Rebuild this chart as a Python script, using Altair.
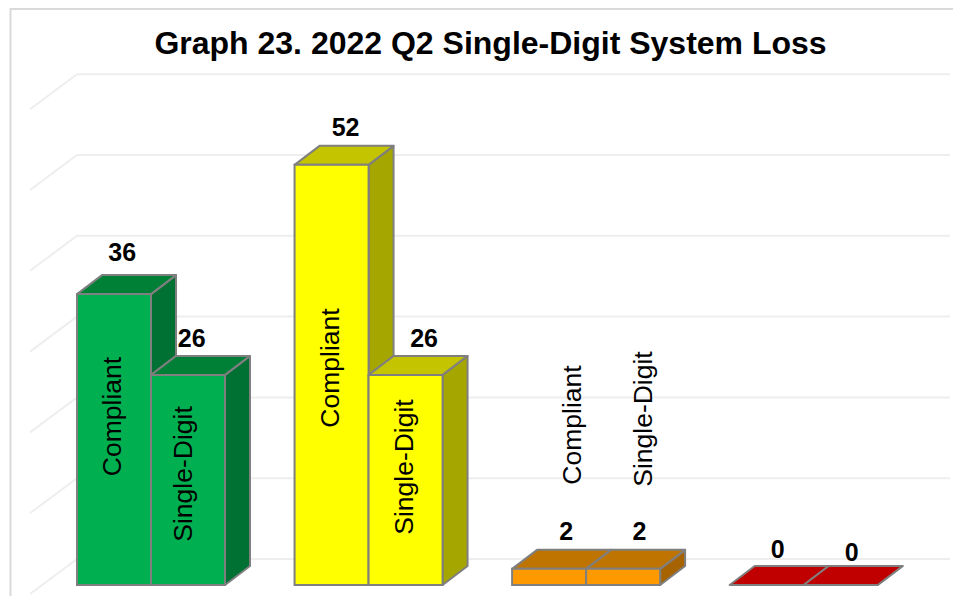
import altair as alt
import pandas as pd

# ---- chart values ----
groups = ["Green", "Yellow", "Orange", "Red"]
compliant = [36, 52, 2, 0]
single_digit = [26, 26, 2, 0]
series_names = ["Compliant", "Single-Digit"]
front_colors = ["#00B050", "#FFFF00", "#FF9900", "#C00000"]
top_colors = ["#008037", "#C4C400", "#C07400", "#C00000"]
side_colors = ["#007033", "#A6A600", "#A66300", "#C00000"]
grid_values = [0, 10, 20, 30, 40, 50, 60]
title_text = "Graph 23. 2022 Q2 Single-Digit System Loss"

# ---- layout constants (slot = one bar width, unit = one value unit) ----
W, H = 945, 588
PX_PER_SLOT, PX_PER_UNIT = 74.0, 8.08
X0_PX, Y0_PX = 77 - 8, 585 - 8
GROUP_PITCH = 2.94
DEPTH_X, DEPTH_Y = 25 / PX_PER_SLOT, 19 / PX_PER_UNIT
WALL_LIFT = 26 / PX_PER_UNIT
GRID_FRONT_X, GRID_FRONT_DROP = -47 / PX_PER_SLOT, 35 / PX_PER_UNIT
GRID_RIGHT = (950 - 77) / PX_PER_SLOT
STROKE = "#7F7F7F"
FONT = "Liberation Sans"

x_scale = alt.Scale(domain=[-X0_PX / PX_PER_SLOT, (W - X0_PX) / PX_PER_SLOT], nice=False, zero=False)
y_scale = alt.Scale(domain=[(Y0_PX - H) / PX_PER_UNIT, Y0_PX / PX_PER_UNIT], nice=False, zero=False)
X = lambda f: alt.X(f, type="quantitative", scale=x_scale, axis=None)
Y = lambda f: alt.Y(f, type="quantitative", scale=y_scale, axis=None)

# label placement relative to bar (slots right of bar left edge, units above value)
val_shift = {0: [(0.61, 5.1), (0.55, 4.5)], 1: [(0.69, 4.6), (0.75, 4.5)], 2: [(0.73, 4.5), (0.72, 4.6)], 3: [(0.65, 4.3), (0.65, 4.0)]}
name_center = {0: [(0.49, 20.85), (0.447, 13.74)], 1: [(0.49, 26.86), (0.49, 14.6)], 2: [(0.827, 19.8), (0.777, 20.54)]}


def faces(series_idx, values):
    side, top, front, vals, names = [], [], [], [], []
    for g, v in enumerate(values):
        x0 = g * GROUP_PITCH + series_idx
        x1 = x0 + 1
        bid = f"{g}-{series_idx}"
        side += [
            dict(b=bid, x=x1, y=0, y2=v, c=side_colors[g]),
            dict(b=bid, x=x1 + DEPTH_X, y=DEPTH_Y, y2=v + DEPTH_Y, c=side_colors[g]),
        ]
        top += [
            dict(b=bid, x=x0, y=v, y2=v, c=top_colors[g]),
            dict(b=bid, x=x0 + DEPTH_X, y=v, y2=v + DEPTH_Y, c=top_colors[g]),
            dict(b=bid, x=x1, y=v, y2=v + DEPTH_Y, c=top_colors[g]),
            dict(b=bid, x=x1 + DEPTH_X, y=v + DEPTH_Y, y2=v + DEPTH_Y, c=top_colors[g]),
        ]
        front.append(dict(x=x0, x2=x1, y=0, y2=v, c=front_colors[g]))
        sx, sy = val_shift[g][series_idx]
        vals.append(dict(x=x0 + sx, y=v + sy, t=str(v)))
        if g in name_center:
            nx, ny = name_center[g][series_idx]
            names.append(dict(x=x0 + nx, y=ny, t=series_names[series_idx]))
    return side, top, front, vals, names


def bar_layers(series_idx, values):
    side, top, front, vals, names = faces(series_idx, values)
    area = dict(orient="vertical", stroke=STROKE, strokeWidth=2, strokeJoin="round")
    return [
        alt.Chart(pd.DataFrame(side)).mark_area(**area).encode(
            x=X("x"), y=Y("y"), y2="y2", detail="b:N", color=alt.Color("c:N", scale=None)),
        alt.Chart(pd.DataFrame(top)).mark_area(**area).encode(
            x=X("x"), y=Y("y"), y2="y2", detail="b:N", color=alt.Color("c:N", scale=None)),
        alt.Chart(pd.DataFrame(front)).mark_rect(stroke=STROKE, strokeWidth=2).encode(
            x=X("x"), x2="x2", y=Y("y"), y2="y2", color=alt.Color("c:N", scale=None)),
    ], vals, names


rows = []
for g in grid_values:
    rows += [
        dict(g=g, x=GRID_FRONT_X, y=g + WALL_LIFT - GRID_FRONT_DROP),
        dict(g=g, x=0, y=g + WALL_LIFT),
        dict(g=g, x=GRID_RIGHT, y=g + WALL_LIFT),
    ]
grid = alt.Chart(pd.DataFrame(rows)).mark_line(color="#EEEEEE", strokeWidth=2).encode(
    x=X("x"), y=Y("y"), detail="g:N")

border_left = alt.Chart(pd.DataFrame({"a": [0]})).mark_rule(color="#D9D9D9", strokeWidth=2).encode(
    x=alt.value(2.5), y=alt.value(0), y2=alt.value(H))
border_top = alt.Chart(pd.DataFrame({"a": [0]})).mark_rule(color="#D9D9D9", strokeWidth=2).encode(
    y=alt.value(1), x=alt.value(2.5), x2=alt.value(W))

l1, v1, n1 = bar_layers(0, compliant)
l2, v2, n2 = bar_layers(1, single_digit)

value_text = alt.Chart(pd.DataFrame(v1 + v2)).mark_text(
    font=FONT, fontSize=25, fontWeight="bold", color="black", baseline="middle", align="center"
).encode(x=X("x"), y=Y("y"), text="t:N")
name_text = alt.Chart(pd.DataFrame(n1 + n2)).mark_text(
    font=FONT, fontSize=26.5, color="black", angle=270, baseline="middle", align="center"
).encode(x=X("x"), y=Y("y"), text="t:N")

chart = alt.layer(border_left, border_top, grid, *l1, *l2, value_text, name_text).properties(
    width=W, height=H, padding=0, autosize=alt.AutoSizeParams(type="none"),
    title=alt.TitleParams(title_text, font=FONT, fontSize=32, fontWeight="bold", color="black",
                          anchor="middle", frame="group", dy=58, dx=10),
).configure_view(stroke=None)

chart.save("out.html", embed_options={"renderer": "svg", "actions": False})
